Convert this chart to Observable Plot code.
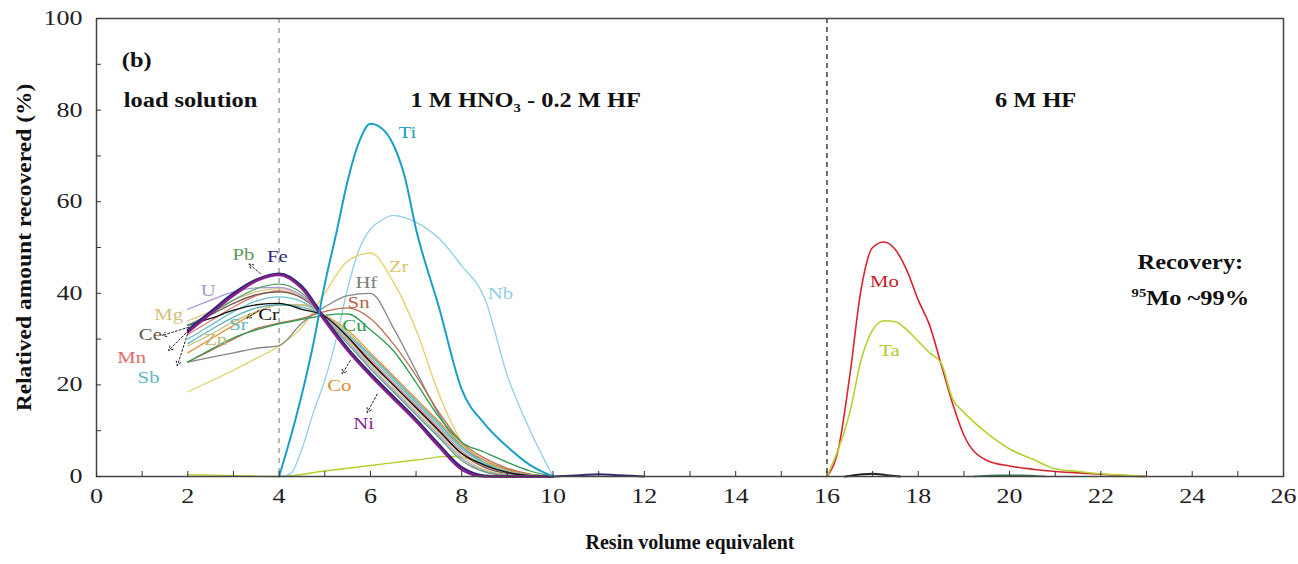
<!DOCTYPE html>
<html><head><meta charset="utf-8">
<script src="https://cdn.jsdelivr.net/npm/d3@7"></script>
<script src="https://cdn.jsdelivr.net/npm/@observablehq/plot@0.6"></script>
<style>body{margin:0;background:#fff;}</style>
</head><body><div id="chart"></div>
<script>
// ---- x grids (resin volume equivalent) ----
const xLoad = [2, 2.5, 3, 3.5, 4, 4.5, 5, 5.5, 6, 6.5, 7, 7.5, 8, 8.5, 9, 9.5, 10];
const xAcid = [4, 4.25, 4.5, 4.75, 5, 5.25, 5.5, 5.75, 6, 6.25, 6.5, 6.75, 7, 7.5, 8, 8.5, 9, 9.5, 10];
const xHF = [16, 16.25, 16.5, 16.75, 17, 17.25, 17.5, 17.75, 18, 18.25, 18.5, 18.75, 19, 19.5, 20, 20.5, 21, 21.5, 22, 22.5, 23];
const xTaLow = [2, 3, 4, 5, 6, 7, 7.7, 8, 8.5, 9, 9.5, 10];
const xBumpA = [10, 10.6, 11, 11.4, 12];
const xBumpB = [16.4, 16.8, 17, 17.3, 17.6];
const xBumpC = [19.2, 19.8, 20.2, 20.8];

// ---- relative amount recovered (%) ----
const zr = [18.5, 20.8, 23.2, 25.8, 28.5, 32.6, 40, 47, 48.8, 42.5, 32, 18, 7.5, 2.5, 1, 0.3, 0];
const hf = [25, 26, 27, 28, 28.6, 33.5, 37, 39.5, 40, 32.5, 23, 13.5, 6.5, 3.5, 1.5, 0.4, 0];
const sn = [25, 27.5, 30, 32.3, 33.5, 34.5, 36, 36.8, 34.5, 29, 22, 14, 7.5, 4, 1.8, 0.5, 0];
const cu = [25, 27.7, 30.3, 32, 33.3, 34.3, 35.2, 35.5, 32, 27.5, 20.5, 13, 7.5, 5.3, 3.1, 1.2, 0];
const co = [27, 30, 33, 35.8, 37.5, 37.5, 35.2, 32, 27, 22, 17, 12, 7, 3.5, 1.4, 0.4, 0];
const zn = [28.5, 31, 33.8, 36, 37.5, 37.5, 35, 31.5, 26.5, 21.5, 16.5, 11.5, 6.5, 3, 1.1, 0.3, 0];
const sr = [29, 32, 34.8, 36.8, 37.5, 37, 35, 31, 26.5, 21.5, 16.5, 11.5, 6.5, 3, 1.1, 0.3, 0];
const sb = [30, 33, 36, 38.3, 39.2, 38.2, 35, 31, 26, 21, 16, 11, 6, 2.8, 1, 0.3, 0];
const mn = [31, 34, 37, 39.5, 40.5, 39, 35, 30.5, 25.5, 20.5, 15.5, 10.5, 5.5, 2.3, 0.8, 0.2, 0];
const ce = [33, 35.3, 37.8, 39.7, 40.3, 39, 35, 30, 25, 20, 15, 10, 5, 2, 0.6, 0.1, 0];
const mg = [34, 36, 38.5, 40.3, 41, 39.3, 35, 30, 24.5, 19.5, 14.5, 9.5, 4.5, 1.5, 0.4, 0, 0];
const u = [36.5, 38.5, 40.3, 41.2, 41.3, 39.5, 34.8, 29.5, 24, 19, 14, 9, 4, 1.2, 0.3, 0, 0];
const cr = [33, 34.5, 36.3, 37.5, 37.8, 36.5, 35, 30.5, 25, 20, 15, 10, 5, 2.5, 0.9, 0.2, 0];
const pb = [33, 35.5, 38.5, 41, 42, 40, 34.5, 29, 23.5, 18.5, 13.5, 8.5, 3.5, 1, 0.2, 0, 0];
const fe = [32, 36, 40, 43, 44.3, 41.5, 34.5, 28, 22.5, 17.5, 12.5, 7, 2, 0.2, 0, 0, 0];
const ni = [31.5, 35.5, 39.5, 42.7, 44, 41, 34, 27.5, 22, 17, 12, 6.5, 1.5, 0, 0, 0, 0];
const ti = [0, 8.5, 18, 29, 42, 53, 64.5, 73, 77, 76, 72.5, 65.5, 54, 37, 19, 11.5, 6.5, 2.5, 0];
const nb = [0, 0.6, 6, 14, 21, 30, 41, 49.5, 54, 56, 57, 56.5, 55.5, 52, 46, 39, 22, 10, 0];
const taLow = [0.4, 0.2, 0, 1.2, 2.4, 3.6, 4.4, 4.2, 3, 1.5, 0.5, 0];
const mo = [0, 6, 22, 41, 50, 51.2, 49.5, 45, 38.5, 33, 24.5, 16, 9, 3.5, 2.3, 1.6, 1.1, 0.8, 0.5, 0.2, 0];
const ta = [0, 6, 14, 25.5, 32, 34, 33.8, 32, 29.5, 27, 24.8, 17, 14, 9.5, 6, 3.8, 1.7, 1.1, 0.6, 0.3, 0];
const bumpA = [0, 0.3, 0.5, 0.3, 0];
const bumpB = [0, 0.5, 0.6, 0.3, 0];
const bumpC = [0, 0.3, 0.3, 0];

// ---- element labels ----
const labelNames = ["Pb", "Fe", "U", "Mg", "Ce", "Mn", "Sb", "Sr", "Cr", "Zn", "Co", "Ni", "Ti", "Nb", "Zr", "Hf", "Sn", "Cu", "Mo", "Ta"];
const labelX = [3.22, 3.96, 2.45, 1.58, 1.18, 0.77, 1.14, 3.11, 3.77, 2.61, 5.32, 5.85, 6.81, 8.85, 6.62, 5.91, 5.74, 5.65, 17.26, 17.37];
const labelY = [48.5, 48.0, 40.6, 35.4, 31.0, 26.0, 21.6, 33.2, 35.4, 29.9, 19.9, 11.6, 75.1, 40.0, 45.9, 42.4, 38.0, 33.0, 42.6, 27.5];

// ---- leader arrows (from curve to label) ----
const arrowFromX = [2.02, 2.02, 2.02, 3.59, 3.55, 5.56, 6.15];
const arrowFromY = [32.6, 31.9, 31.9, 44.3, 36.2, 25.3, 18.0];
const arrowToX = [1.44, 1.58, 1.77, 3.34, 3.30, 5.38, 5.93];
const arrowToY = [30.8, 27.5, 24.2, 46.4, 34.6, 22.4, 14.0];

// ---- annotations ----
const notes = ["(b)", "load solution", "1 M HNO3 - 0.2 M HF", "6 M HF", "Recovery:", "95Mo ~99%"];
const noteX = [0.88, 2.06, 9.4, 20.57, 23.96, 23.96];
const noteY = [90.8, 82.0, 82.0, 82.0, 46.7, 38.9];
const xTitle = "Resin volume equivalent";
const yTitle = "Relatived amount recovered (%)";

// ---- ticks ----
const xMinorTicks = d3.range(0, 27, 1);
const xLabelTicks = d3.range(0, 27, 2);
const yMinorTicks = d3.range(0, 101, 10);
const yLabelTicks = [0, 20, 40, 60, 80, 100];
const phaseBounds = [4, 16];

// series table (drawing order)
const series = [
  ["TaLow", xTaLow, taLow], ["BumpA", xBumpA, bumpA], ["BumpB", xBumpB, bumpB], ["BumpC", xBumpC, bumpC],
  ["Nb", xAcid, nb], ["Zr", xLoad, zr], ["Hf", xLoad, hf], ["Sn", xLoad, sn], ["Cu", xLoad, cu],
  ["Co", xLoad, co], ["Zn", xLoad, zn], ["Sr", xLoad, sr], ["Sb", xLoad, sb], ["Mn", xLoad, mn],
  ["Ce", xLoad, ce], ["Mg", xLoad, mg], ["U", xLoad, u], ["Cr", xLoad, cr], ["Pb", xLoad, pb],
  ["Fe", xLoad, fe], ["Ni", xLoad, ni], ["Ti", xAcid, ti], ["Mo", xHF, mo], ["Ta", xHF, ta]
];

const lineColor = {
  TaLow: "#b3cf2e", BumpA: "#2d2a6e", BumpB: "#222222", BumpC: "#2f7a4a",
  Nb: "#8fd0e6", Zr: "#e3cf66", Hf: "#878787", Sn: "#bb6c52", Cu: "#2a9a4e", Co: "#e2963a",
  Zn: "#c8c27c", Sr: "#5fb2c2", Sb: "#6cc0cf", Mn: "#e07a78", Ce: "#6b5a4a", Mg: "#d9c483",
  U: "#a99bd8", Cr: "#111111", Pb: "#5f9e6e", Fe: "#2e2a78", Ni: "#86208a", Ti: "#1a9fc8",
  Mo: "#d8242c", Ta: "#b5d232"
};
const lineWidth = { Fe: 2.4, Ni: 2.4, Ti: 2.0, Mo: 1.6, Ta: 1.6, Nb: 1.3, BumpA: 2, BumpB: 2, BumpC: 1.5 };
const labelColor = {
  Pb: "#5e9a5e", Fe: "#2e2a78", U: "#a39ad0", Mg: "#d6c07e", Ce: "#5e5248", Mn: "#e06a6a",
  Sb: "#5fb8c8", Sr: "#5fb4c4", Cr: "#111111", Zn: "#c2bc78", Co: "#dd9030", Ni: "#8a1a9a",
  Ti: "#1a9fc8", Nb: "#8fcde6", Zr: "#dcc468", Hf: "#7d7d7d", Sn: "#b8634a", Cu: "#2a9a4e",
  Mo: "#c8202a", Ta: "#b0cc2e"
};

const labelRows = labelNames.map((n, i) => ({n, x: labelX[i], y: labelY[i]}));
const arrowRows = arrowFromX.map((x, i) => ({x1: x, y1: arrowFromY[i], x2: arrowToX[i], y2: arrowToY[i]}));
const noteRows = notes.map((t, i) => ({t, x: noteX[i], y: noteY[i]}));

const serif = "'Liberation Serif', 'Times New Roman', serif";

const lineMarks = series.map(([name, xs, ys]) =>
  Plot.line(xs.map((x, i) => ({x, y: ys[i]})), {
    x: "x", y: "y", stroke: lineColor[name], strokeWidth: lineWidth[name] ?? 1.3, curve: "monotone-x"
  })
);

const chart = Plot.plot({
  width: 1298, height: 564,
  marginLeft: 96, marginRight: 15, marginTop: 18, marginBottom: 88,
  style: {fontFamily: serif, fontSize: "20px", color: "#222", background: "#fff"},
  x: {domain: [0, 26]},
  y: {domain: [0, 100]},
  marks: [
    Plot.ruleX([phaseBounds[0]], {stroke: "#a8a8a8", strokeWidth: 1.6, strokeDasharray: "5,5"}),
    Plot.ruleX([phaseBounds[1]], {stroke: "#222", strokeWidth: 1.3, strokeDasharray: "5,4"}),
    ...lineMarks,
    Plot.frame({stroke: "#444", strokeWidth: 1.5}),
    Plot.axisX({ticks: xMinorTicks, tickSize: -5, tickFormat: () => "", label: null, stroke: "#333"}),
    Plot.axisX({ticks: xLabelTicks, tickSize: 0, tickPadding: 12, label: null, fontSize: 20, fill: "#222"}),
    Plot.axisY({ticks: yMinorTicks, tickSize: -5, tickFormat: () => "", label: null, stroke: "#333"}),
    Plot.axisY({ticks: yLabelTicks, tickSize: 0, tickPadding: 14, label: null, fontSize: 20, fill: "#222"}),
    Plot.arrow(arrowRows, {x1: "x1", y1: "y1", x2: "x2", y2: "y2", stroke: "#222", strokeWidth: 1, strokeDasharray: "2,2", headLength: 7}),
    Plot.text(labelRows, {x: "x", y: "y", text: "n", fill: d => labelColor[d.n], fontSize: 17}),
    Plot.text(noteRows, {x: "x", y: "y", text: "t", fontWeight: "bold", fontSize: 20, fill: "#111"}),
    Plot.text([xTitle], {frameAnchor: "bottom", dy: 72, text: d => d, fontWeight: "bold", fontSize: 20, fill: "#111"}),
    Plot.text([yTitle], {frameAnchor: "left", dx: -72, rotate: -90, textAnchor: "middle", text: d => d, fontWeight: "bold", fontSize: 21, fill: "#111"})
  ]
});

// subscript / superscript formatting
function rich(el, parts) {
  while (el.firstChild) el.removeChild(el.firstChild);
  for (const p of parts) {
    const ts = document.createElementNS("http://www.w3.org/2000/svg", "tspan");
    ts.textContent = p.t;
    if (p.size) ts.setAttribute("font-size", p.size);
    if (p.dy) ts.setAttribute("dy", p.dy);
    el.appendChild(ts);
  }
}
chart.querySelectorAll("text, tspan").forEach(el => {
  if (el.children.length) return;
  if (el.textContent === "1 M HNO3 - 0.2 M HF") {
    rich(el, [{t: "1 M HNO"}, {t: "3", size: 12, dy: 5}, {t: " - 0.2 M HF", dy: -5}]);
  } else if (el.textContent === "95Mo ~99%") {
    rich(el, [{t: "95", size: 12, dy: -8}, {t: "Mo ~99%", dy: 8}]);
  }
});

document.getElementById("chart").appendChild(chart);

// the reference typeface is set wider than Liberation Serif: widen glyphs along the baseline
chart.querySelectorAll("text").forEach(el => {
  const s = el.textContent;
  if (!s || s === xTitle) return;
  const len = el.getComputedTextLength();
  if (!len) return;
  const isTick = !!el.closest('g[aria-label*="tick label"]');
  const k = s === yTitle ? 1.12 : isTick ? 1.3 : 1.22;
  el.setAttribute("textLength", (len * k).toFixed(1));
  el.setAttribute("lengthAdjust", "spacingAndGlyphs");
});
</script></body></html>
